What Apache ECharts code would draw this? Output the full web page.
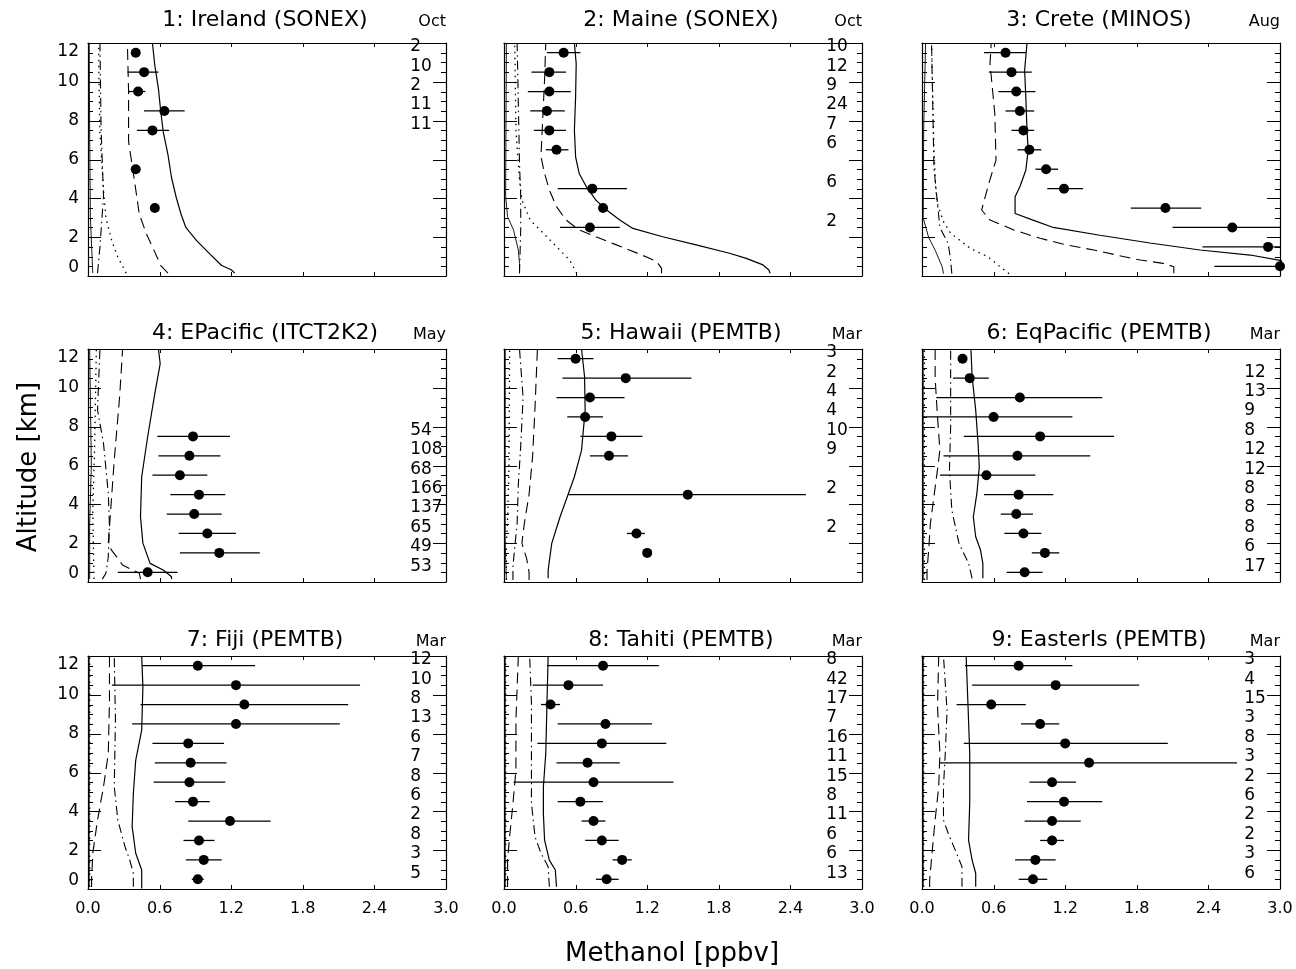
<!DOCTYPE html>
<html><head><meta charset="utf-8">
<script src="https://cdn.jsdelivr.net/npm/echarts@6/dist/echarts.min.js"></script>
<style>html,body{margin:0;padding:0;background:#fff}#c{width:1296px;height:969px}</style>
</head><body><div id="c"></div>
<script>
// ---------------- DATA ----------------
const TITLES = ['1: Ireland (SONEX)','2: Maine (SONEX)','3: Crete (MINOS)','4: EPacific (ITCT2K2)','5: Hawaii (PEMTB)','6: EqPacific (PEMTB)','7: Fiji (PEMTB)','8: Tahiti (PEMTB)','9: EasterIs (PEMTB)'];
const MONTHS = ['Oct','Oct','Aug','May','Mar','Mar','Mar','Mar','Mar'];
const X_LABEL = 'Methanol [ppbv]';
const Y_LABEL = 'Altitude [km]';
const X_TICKS = [0.6, 1.2, 1.8, 2.4];                 // inner x tick positions (ppbv)
const Y_MAJOR = [0, 2, 4, 6, 8, 10, 12];              // labelled altitude ticks (km)
const Y_MINOR = [0.5,1,1.5,2.5,3,3.5,4.5,5,5.5,6.5,7,7.5,8.5,9,9.5,10.5,11,11.5];

const ALT12 = [11.5,10.5,9.5,8.5,7.5,6.5,5.5,4.5,3.5,2.5,1.5,0.5];

// Panel 1
const P1_ALT  = [11.5,10.5,9.5,8.5,7.5,5.5,3.5];
const P1_MEAN = [0.40,0.47,0.42,0.64,0.54,0.40,0.56];
const P1_LOW  = [null,0.33,0.34,0.47,0.41,null,null];
const P1_HIGH = [null,0.59,0.48,0.81,0.68,null,null];
const P1_N    = ['2','10','2','11','11','',''];
const P1_SOLID = [[1.23,0.15],[1.20,0.32],[1.12,0.54],[1.02,1.14],[0.91,1.82],[0.82,2.5],[0.78,3.18],[0.74,4.03],[0.70,5.06],[0.67,6.25],[0.63,7.44],[0.61,8.46],[0.59,9.65],[0.56,10.84],[0.54,12]];
const P1_DASH  = [[0.67,0.15],[0.61,0.54],[0.60,0.63],[0.56,1.23],[0.49,2.16],[0.43,3.18],[0.39,4.88],[0.34,6.93],[0.34,9.5],[0.33,12]];
const P1_DOT   = [[0.32,0.15],[0.25,0.97],[0.20,1.8],[0.15,3.0],[0.13,4.4],[0.10,7.4],[0.09,10.8],[0.09,12]];
const P1_DDOT  = [[0.08,0.15],[0.10,1.5],[0.13,4.1],[0.11,7.5],[0.10,12]];
const P1_THIN  = [[0.04,0.15],[0.02,3.0],[0.014,7.5],[0.01,12]];

// Panel 2
const P2_ALT  = [11.5,10.5,9.5,8.5,7.5,6.5,4.5,3.5,2.5];
const P2_MEAN = [0.50,0.38,0.38,0.36,0.38,0.44,0.74,0.83,0.72];
const P2_LOW  = [0.36,0.23,0.20,0.22,0.25,0.35,0.45,null,0.47];
const P2_HIGH = [0.64,0.52,0.56,0.51,0.52,0.54,1.03,null,0.97];
const P2_N    = ['10','12','9','24','7','6','6','','2'];
const P2_SOLID = [[2.23,0.14],[2.22,0.31],[2.17,0.57],[2.03,0.91],[1.89,1.17],[1.61,1.6],[1.33,2.02],[1.08,2.45],[0.97,2.88],[0.86,3.4],[0.77,3.91],[0.69,4.6],[0.63,5.28],[0.60,6.14],[0.59,7.51],[0.60,9.23],[0.605,10.94],[0.59,12]];
const P2_DASH  = [[1.32,0.14],[1.32,0.39],[1.28,0.74],[1.19,0.99],[1.05,1.34],[0.91,1.68],[0.77,2.02],[0.63,2.37],[0.52,2.88],[0.44,3.57],[0.38,4.43],[0.34,5.28],[0.31,6.14],[0.32,7.5],[0.34,10.1],[0.35,12]];
const P2_DOT   = [[0.61,0.14],[0.55,0.82],[0.44,1.51],[0.33,2.2],[0.22,2.88],[0.15,3.91],[0.13,4.94],[0.10,7.5],[0.09,12]];
const P2_DDOT  = [[0.13,0.14],[0.14,2.4],[0.14,4.1],[0.13,5.8],[0.11,12]];
const P2_THIN  = [[0.13,0.14],[0.13,0.65],[0.12,1.34],[0.08,2.37],[0.03,3.05],[0.014,4.1],[0.02,12]];

// Panel 3
const P3_ALT  = ALT12;
const P3_MEAN = [0.70,0.75,0.79,0.82,0.85,0.90,1.04,1.19,2.04,2.60,2.90,3.00];
const P3_LOW  = [0.52,0.56,0.64,0.70,0.75,0.80,0.95,1.05,1.75,2.10,2.35,2.45];
const P3_HIGH = [0.87,0.92,0.95,0.94,0.94,1.00,1.14,1.35,2.34,3.10,3.20,3.30];
const P3_N    = ['','','','','','','','','','','',''];
const P3_SOLID = [[3.2,0.5],[2.99,0.82],[2.75,1.08],[2.33,1.34],[1.91,1.7],[1.49,2.1],[1.10,2.5],[0.93,2.88],[0.78,3.22],[0.78,4.08],[0.82,4.6],[0.87,5.45],[0.89,6.48],[0.88,7.5],[0.87,9.2],[0.86,10.6],[0.88,12]];
const P3_DASH  = [[2.11,0.14],[2.11,0.48],[2.02,0.65],[1.83,0.82],[1.63,1.08],[1.44,1.34],[1.21,1.6],[0.99,1.94],[0.77,2.37],[0.57,2.88],[0.50,3.4],[0.56,4.77],[0.62,5.97],[0.61,8.37],[0.57,10.94],[0.58,12]];
const P3_DOT   = [[0.73,0.12],[0.65,0.5],[0.55,1.0],[0.41,1.4],[0.24,2.2],[0.18,2.8],[0.13,3.7],[0.115,4.5],[0.10,6.5],[0.08,12]];
const P3_DDOT  = [[0.25,0.12],[0.24,0.8],[0.22,1.67],[0.15,2.5],[0.13,3.7],[0.10,5.6],[0.08,12]];
const P3_THIN  = [[0.18,0.12],[0.17,0.46],[0.11,1.33],[0.055,2.0],[0.01,3.0],[0.014,7.5],[0.03,12]];

// Panel 4
const P4_ALT  = [7.5,6.5,5.5,4.5,3.5,2.5,1.5,0.5];
const P4_MEAN = [0.88,0.85,0.77,0.93,0.89,1.00,1.10,0.50];
const P4_LOW  = [0.58,0.59,0.54,0.69,0.66,0.76,0.77,0.25];
const P4_HIGH = [1.19,1.11,1.00,1.15,1.12,1.24,1.44,0.75];
const P4_N    = ['54','108','68','166','137','65','49','53'];
const P4_SOLID = [[0.70,0.15],[0.70,0.27],[0.63,0.62],[0.52,0.96],[0.46,2.0],[0.44,3.36],[0.45,5.42],[0.50,7.48],[0.56,9.71],[0.605,11.25],[0.59,12]];
const P4_DASH  = [[0.44,0.15],[0.43,0.45],[0.29,0.87],[0.25,1.22],[0.195,1.65],[0.17,1.99],[0.19,3.7],[0.22,6.28],[0.265,9.54],[0.29,12]];
const P4_DOT   = [[0.05,0.15],[0.04,3.7],[0.056,7.1],[0.07,12]];
const P4_DDOT  = [[0.12,0.15],[0.15,0.45],[0.17,1.3],[0.18,2.85],[0.17,4.56],[0.13,7.14],[0.08,8.85],[0.10,12]];
const P4_THIN  = [[0.014,0.15],[0.014,3.0],[0.028,6],[0.014,12]];

// Panel 5
const P5_ALT  = [11.5,10.5,9.5,8.5,7.5,6.5,4.5,2.5,1.5];
const P5_MEAN = [0.60,1.02,0.72,0.68,0.90,0.88,1.54,1.11,1.20];
const P5_LOW  = [0.45,0.49,0.44,0.53,0.64,0.72,0.54,1.03,null];
const P5_HIGH = [0.75,1.57,1.01,0.83,1.16,1.04,2.53,1.18,null];
const P5_N    = ['3','2','4','4','10','9','2','2',''];
const P5_SOLID = [[0.37,0.19],[0.37,0.62],[0.40,1.99],[0.47,3.36],[0.54,4.56],[0.59,5.42],[0.65,6.79],[0.68,8.85],[0.675,10.57],[0.65,12]];
const P5_DASH  = [[0.21,0.1],[0.21,0.5],[0.19,1.2],[0.15,2.0],[0.17,3.0],[0.21,4.5],[0.24,6.5],[0.26,9],[0.28,12]];
const P5_DOT   = [[0.02,0.1],[0.02,2],[0.033,3.7],[0.042,6],[0.047,12]];
const P5_DDOT  = [[0.075,0.1],[0.075,0.8],[0.09,1.8],[0.11,3],[0.12,5],[0.14,7],[0.16,9.5],[0.13,12]];
const P5_THIN  = [[0.02,0.1],[0.01,2],[0.01,12]];

// Panel 6
const P6_ALT  = ALT12;
const P6_MEAN = [0.34,0.40,0.82,0.60,0.99,0.80,0.54,0.81,0.79,0.85,1.03,0.86];
const P6_LOW  = [null,0.26,0.12,0.01,0.35,0.18,0.15,0.52,0.66,0.69,0.92,0.71];
const P6_HIGH = [null,0.56,1.51,1.26,1.61,1.41,0.95,1.10,0.93,1.00,1.15,1.01];
const P6_N    = ['','12','13','9','8','12','12','8','8','8','6','17'];
const P6_SOLID = [[0.51,0.19],[0.51,0.96],[0.49,1.65],[0.45,2.33],[0.43,3.36],[0.46,4.56],[0.48,5.94],[0.47,7.14],[0.45,8.85],[0.42,10.57],[0.41,12]];
const P6_DASH  = [[0.042,0.1],[0.042,0.6],[0.056,1.65],[0.07,3.0],[0.10,4.4],[0.13,5.8],[0.15,6.8],[0.13,8.5],[0.11,10.5],[0.11,12]];
const P6_DOT   = [[0.02,0.1],[0.02,12]];
const P6_DDOT  = [[0.42,0.19],[0.39,0.96],[0.31,1.99],[0.25,3.7],[0.23,5.76],[0.24,8.0],[0.24,12]];
const P6_THIN  = [[0.01,0.1],[0.01,12]];

// Panel 7
const P7_ALT  = ALT12;
const P7_MEAN = [0.92,1.24,1.31,1.24,0.84,0.86,0.85,0.88,1.19,0.93,0.97,0.92];
const P7_LOW  = [0.45,0.20,0.44,0.37,0.54,0.56,0.55,0.73,0.84,0.80,0.82,0.87];
const P7_HIGH = [1.40,2.28,2.18,2.11,1.14,1.16,1.15,1.02,1.53,1.06,1.12,0.97];
const P7_N    = ['12','10','8','13','6','7','8','6','2','8','3','5'];
const P7_SOLID = [[0.45,0.03],[0.45,0.98],[0.40,1.84],[0.37,3.21],[0.38,4.92],[0.40,6.64],[0.45,8.18],[0.46,10.41],[0.45,12]];
const P7_DASH  = [[0.03,0.1],[0.03,0.5],[0.04,1.84],[0.08,3.55],[0.13,5.27],[0.17,6.98],[0.18,9.7],[0.18,12]];
const P7_DOT   = [[0.014,0.1],[0.014,12]];
const P7_DDOT  = [[0.38,0.12],[0.38,0.81],[0.35,1.49],[0.31,2.18],[0.25,3.55],[0.22,5.27],[0.23,8.7],[0.22,12]];
const P7_THIN  = [[0.01,0.1],[0.01,12]];

// Panel 8
const P8_ALT  = ALT12;
const P8_MEAN = [0.83,0.54,0.39,0.85,0.82,0.70,0.75,0.64,0.75,0.82,0.99,0.86];
const P8_LOW  = [0.36,0.24,0.31,0.45,0.28,0.44,0.08,0.45,0.65,0.68,0.91,0.77];
const P8_HIGH = [1.30,0.83,0.47,1.24,1.36,0.97,1.42,0.83,0.85,0.96,1.07,0.96];
const P8_N    = ['8','42','17','7','16','11','15','8','11','6','6','13'];
const P8_SOLID = [[0.44,0.12],[0.43,0.98],[0.38,1.49],[0.34,2.52],[0.33,3.89],[0.33,5.27],[0.35,6.98],[0.36,9.55],[0.37,12]];
const P8_DASH  = [[0.03,0.1],[0.03,1.5],[0.047,2.7],[0.075,4.4],[0.10,6.12],[0.10,8.7],[0.12,12]];
const P8_DOT   = [[0.014,0.1],[0.014,12]];
const P8_DDOT  = [[0.38,0.12],[0.37,1.15],[0.31,1.84],[0.26,2.69],[0.23,4.41],[0.23,6.98],[0.23,9.55],[0.215,12]];
const P8_THIN  = [[0.01,0.1],[0.01,12]];

// Panel 9
const P9_ALT  = ALT12;
const P9_MEAN = [0.81,1.12,0.58,0.99,1.20,1.40,1.09,1.19,1.09,1.09,0.95,0.93];
const P9_LOW  = [0.36,0.42,0.29,0.83,0.35,0.15,0.90,0.88,0.86,0.99,0.78,0.81];
const P9_HIGH = [1.26,1.82,0.87,1.15,2.06,2.64,1.29,1.51,1.33,1.19,1.12,1.05];
const P9_N    = ['3','4','15','3','8','3','2','6','2','2','3','6'];
const P9_SOLID = [[0.45,0.12],[0.45,0.81],[0.42,1.49],[0.39,2.52],[0.40,4.41],[0.40,6.98],[0.385,9.55],[0.37,12]];
const P9_DASH  = [[0.064,0.1],[0.064,0.46],[0.084,1.84],[0.11,3.55],[0.14,5.27],[0.15,6.98],[0.13,9.38],[0.14,12]];
const P9_DOT   = [[0.014,0.1],[0.014,12]];
const P9_DDOT  = [[0.335,0.12],[0.335,1.15],[0.29,1.84],[0.22,2.86],[0.18,3.55],[0.18,5.27],[0.195,6.98],[0.21,9.2],[0.18,12]];
const P9_THIN  = [[0.01,0.1],[0.01,12]];

// ---------------- LAYOUT / STYLE ----------------
const PANELS = [
 [P1_ALT,P1_MEAN,P1_LOW,P1_HIGH,P1_N,[P1_SOLID,P1_DASH,P1_DOT,P1_DDOT,P1_THIN]],
 [P2_ALT,P2_MEAN,P2_LOW,P2_HIGH,P2_N,[P2_SOLID,P2_DASH,P2_DOT,P2_DDOT,P2_THIN]],
 [P3_ALT,P3_MEAN,P3_LOW,P3_HIGH,P3_N,[P3_SOLID,P3_DASH,P3_DOT,P3_DDOT,P3_THIN]],
 [P4_ALT,P4_MEAN,P4_LOW,P4_HIGH,P4_N,[P4_SOLID,P4_DASH,P4_DOT,P4_DDOT,P4_THIN]],
 [P5_ALT,P5_MEAN,P5_LOW,P5_HIGH,P5_N,[P5_SOLID,P5_DASH,P5_DOT,P5_DDOT,P5_THIN]],
 [P6_ALT,P6_MEAN,P6_LOW,P6_HIGH,P6_N,[P6_SOLID,P6_DASH,P6_DOT,P6_DDOT,P6_THIN]],
 [P7_ALT,P7_MEAN,P7_LOW,P7_HIGH,P7_N,[P7_SOLID,P7_DASH,P7_DOT,P7_DDOT,P7_THIN]],
 [P8_ALT,P8_MEAN,P8_LOW,P8_HIGH,P8_N,[P8_SOLID,P8_DASH,P8_DOT,P8_DDOT,P8_THIN]],
 [P9_ALT,P9_MEAN,P9_LOW,P9_HIGH,P9_N,[P9_SOLID,P9_DASH,P9_DOT,P9_DDOT,P9_THIN]]
];
const LEFTS = [88, 504, 922], TOPS = [43, 349, 656], W = 358, H = 233;
const TITLE_BOTTOM = [31, 344, 651];
const FONT = 'DejaVu Sans';
const LABEL_X = 2.7;
const LINE_STYLES = [
  {type:'solid', width:1.2},
  {type:[11,6], width:1.1},
  {type:[1.5,4.5], width:1.3},
  {type:[9,4,1.5,4], width:1.1},
  {type:'solid', width:0.9}
];
const TICK_LEN = {major: 13, minor: 5, x: 4};

function xAxisOpt(i, pos, showLabel) {
  return {gridIndex: i, type: 'value', min: 0, max: 3, interval: 0.6, position: pos,
    splitLine: {show: false},
    axisLine: {show: true, onZero: false, lineStyle: {color: '#000', width: 1.2}},
    axisTick: {show: false},
    axisLabel: {show: showLabel, color: '#000', fontFamily: FONT, fontSize: 16, margin: 12,
      formatter: v => v.toFixed(1), showMinLabel: true, showMaxLabel: true, hideOverlap: false}};
}
function yAxisOpt(i, pos, showLabel) {
  return {gridIndex: i, type: 'value', min: 0, max: 12, interval: 2, position: pos,
    splitLine: {show: false},
    axisLine: {show: true, onZero: false, lineStyle: {color: '#000', width: 1.2}},
    axisTick: {show: false}, minorTick: {show: false},
    axisLabel: {show: showLabel, color: '#000', fontFamily: FONT, fontSize: 17, margin: 9,
      formatter: v => String(v), showMinLabel: true, showMaxLabel: true, hideOverlap: false,
      verticalAlignMinLabel: 'bottom', verticalAlignMaxLabel: 'top'}};
}

// tick marks placed through the axis scales (kind: 0 minor y, 1 major y, 2 x)
const TICK_DATA = [].concat(
  Y_MINOR.map(v => [0, v, 0]),
  Y_MAJOR.map(v => [0, v, 1]),
  X_TICKS.map(v => [v, 0, 2])
);
function renderTick(params, api) {
  const cs = params.coordSys;
  const kind = api.value(2);
  const st = {stroke: '#000', lineWidth: 1};
  if (kind === 2) {
    const x = Math.round(api.coord([api.value(0), 0])[0]) + 0.5;
    const yT = cs.y, yB = cs.y + cs.height;
    return {type: 'group', children: [
      {type: 'line', shape: {x1: x, y1: yT, x2: x, y2: yT + TICK_LEN.x}, style: st},
      {type: 'line', shape: {x1: x, y1: yB, x2: x, y2: yB - TICK_LEN.x}, style: st}]};
  }
  const y = Math.round(api.coord([0, api.value(1)])[1]) + 0.5;
  const L = kind === 1 ? TICK_LEN.major : TICK_LEN.minor;
  const xL = cs.x, xR = cs.x + cs.width;
  return {type: 'group', children: [
    {type: 'line', shape: {x1: xL, y1: y, x2: xL + L, y2: y}, style: st},
    {type: 'line', shape: {x1: xR, y1: y, x2: xR - L, y2: y}, style: st}]};
}

const grids = [], xAxes = [], yAxes = [], series = [], graphics = [];
PANELS.forEach((p, i) => {
  const [ALT, MEAN, LOW, HIGH, N, LINES] = p;
  const col = i % 3, row = Math.floor(i / 3);
  const left = LEFTS[col], top = TOPS[row];
  grids.push({left, top, width: W, height: H, show: false, outerBoundsMode: 'none', containLabel: false});
  xAxes.push(xAxisOpt(i, 'bottom', row === 2));
  xAxes.push(xAxisOpt(i, 'top', false));
  yAxes.push(yAxisOpt(i, 'left', col === 0));
  yAxes.push(yAxisOpt(i, 'right', false));

  const xi = 2 * i, yi = 2 * i;
  series.push({type: 'custom', xAxisIndex: xi, yAxisIndex: yi, data: TICK_DATA, silent: true, z: 1,
    renderItem: renderTick});
  LINES.forEach((ln, k) => {
    series.push({type: 'line', xAxisIndex: xi, yAxisIndex: yi, data: ln, showSymbol: false, symbol: 'none',
      silent: true, clip: true, lineStyle: Object.assign({color: '#000'}, LINE_STYLES[k]), z: 2});
  });
  const eb = [];
  ALT.forEach((a, k) => { if (LOW[k] != null && HIGH[k] != null) eb.push([LOW[k], HIGH[k], a]); });
  series.push({type: 'custom', xAxisIndex: xi, yAxisIndex: yi, data: eb, silent: true, z: 3,
    renderItem: (params, api) => {
      const lo = Math.max(0, api.value(0)), hi = Math.min(3, api.value(1)), a = api.value(2);
      const p1 = api.coord([lo, a]), p2 = api.coord([hi, a]);
      return {type: 'line', shape: {x1: p1[0], y1: p1[1], x2: p2[0], y2: p2[1]},
        style: {stroke: '#000', lineWidth: 1.3}};
    }});
  series.push({type: 'scatter', xAxisIndex: xi, yAxisIndex: yi, symbol: 'circle', symbolSize: 10,
    itemStyle: {color: '#000', opacity: 1}, silent: true, z: 4, data: ALT.map((a, k) => [MEAN[k], a])});
  const labs = [];
  ALT.forEach((a, k) => { if (N[k] !== '') labs.push({value: [LABEL_X, a], txt: N[k]}); });
  series.push({type: 'custom', xAxisIndex: xi, yAxisIndex: yi, silent: true, z: 5,
    data: labs.map(d => d.value),
    renderItem: (params, api) => {
      const pt = api.coord([api.value(0), api.value(1)]);
      return {type: 'text', x: pt[0], y: pt[1] - 6,
        style: {text: labs[params.dataIndex].txt, fill: '#000', font: '17px ' + FONT,
          align: 'left', verticalAlign: 'middle'}};
    }});
  graphics.push({type: 'text', x: left + W / 2 - 2, y: TITLE_BOTTOM[row],
    style: {text: TITLES[i], fill: '#000', font: '22px ' + FONT, align: 'center', verticalAlign: 'bottom'}});
  graphics.push({type: 'text', x: left + W, y: TITLE_BOTTOM[row] - 1,
    style: {text: MONTHS[i], fill: '#000', font: '16px ' + FONT, align: 'right', verticalAlign: 'bottom'}});
});
graphics.push({type: 'text', x: 29, y: 467, rotation: Math.PI / 2,
  style: {text: Y_LABEL, fill: '#000', font: '26px ' + FONT, align: 'center', verticalAlign: 'middle'}});
graphics.push({type: 'text', x: 672, y: 954,
  style: {text: X_LABEL, fill: '#000', font: '26px ' + FONT, align: 'center', verticalAlign: 'middle'}});

const chart = echarts.init(document.getElementById('c'), null, {renderer: 'canvas'});
chart.setOption({
  animation: false,
  backgroundColor: '#fff',
  grid: grids, xAxis: xAxes, yAxis: yAxes, series: series,
  graphic: graphics
});
</script></body></html>
